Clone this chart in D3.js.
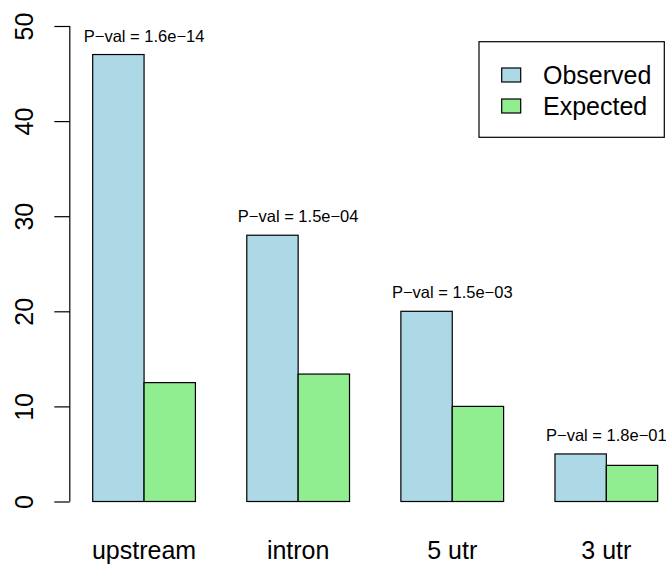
<!DOCTYPE html>
<html>
<head>
<meta charset="utf-8">
<script src="https://cdn.jsdelivr.net/npm/d3@7"></script>
<style>
  body { margin: 0; background: #fff; }
  svg { display: block; font-family: "Liberation Sans", Arial, Helvetica, sans-serif; }
</style>
</head>
<body>
<div id="chart"></div>
<script>
// data
var categories = ["upstream", "intron", "5 utr", "3 utr"];
var observed = [47, 28, 20, 5];
var expected = [12.5, 13.4, 10, 3.8];
var pvals = ["1.6e\u221214", "1.5e\u221204", "1.5e\u221203", "1.8e\u221201"];
var yTicks = [0, 10, 20, 30, 40, 50];
var seriesNames = ["Observed", "Expected"];

var w = 666, h = 566;
var colors = ["#ADD8E6", "#90EE90"]; // lightblue, lightgreen

var svg = d3.select("#chart")
    .append("svg")
    .attr("width", w)
    .attr("height", h);

// bar units like R's barplot: each group = 2 bars + 1 bar gap
var x = d3.scaleLinear()
    .domain([1, 12])
    .range([92.7, 657.7]);

var y = d3.scaleLinear()
    .domain([0, 50])
    .range([501.5, 26]);

var rows = [];
categories.forEach(function (c, i) {
    rows.push({ cat: c, s: 0, v: observed[i], u: 1 + 3 * i });
    rows.push({ cat: c, s: 1, v: expected[i], u: 2 + 3 * i });
});

svg.selectAll("rect.bar")
    .data(rows)
    .enter()
    .append("rect")
    .attr("class", "bar")
    .attr("x", function (d) { return x(d.u); })
    .attr("y", function (d) { return y(d.v); })
    .attr("width", function (d) { return x(d.u + 1) - x(d.u); })
    .attr("height", function (d) { return y(0) - y(d.v); })
    .attr("fill", function (d) { return colors[d.s]; })
    .attr("stroke", "#000")
    .attr("stroke-width", 1.2);

// p-value labels above each group
svg.selectAll("text.pval")
    .data(categories)
    .enter()
    .append("text")
    .attr("class", "pval")
    .attr("x", function (d, i) { return x(2 + 3 * i); })
    .attr("y", function (d, i) { return y(observed[i] + 2); })
    .attr("text-anchor", "middle")
    .attr("dominant-baseline", "central")
    .attr("font-size", "16.5px")
    .text(function (d, i) { return "P\u2212val = " + pvals[i]; });

// group names under the bars
svg.selectAll("text.cat")
    .data(categories)
    .enter()
    .append("text")
    .attr("class", "cat")
    .attr("x", function (d, i) { return x(2 + 3 * i); })
    .attr("y", 559)
    .attr("text-anchor", "middle")
    .attr("font-size", "25px")
    .text(function (d) { return d; });

// y axis, R style with rotated labels
var yAxis = d3.axisLeft(y)
    .tickValues(yTicks)
    .tickSize(15.5)
    .tickPadding(0)
    .tickFormat(d3.format("d"));

var gy = svg.append("g")
    .attr("transform", "translate(69.8,0)")
    .call(yAxis);

gy.select(".domain")
    .attr("d", "M0," + y(0) + "V" + y(50))
    .attr("stroke", "#000")
    .attr("stroke-width", 1.2);
gy.selectAll(".tick line").attr("stroke", "#000").attr("stroke-width", 1.2);
gy.selectAll(".tick text")
    .attr("x", 0)
    .attr("dy", null)
    .attr("fill", "#000")
    .attr("font-size", "25px")
    .attr("font-family", "'Liberation Sans', Arial, sans-serif")
    .attr("text-anchor", "middle")
    .attr("transform", "translate(-36.5,0) rotate(-90)");

// legend
var legend = svg.append("g");
legend.append("rect")
    .attr("x", 479)
    .attr("y", 41.7)
    .attr("width", 185.3)
    .attr("height", 95.6)
    .attr("fill", "#fff")
    .attr("stroke", "#000")
    .attr("stroke-width", 1.2);

var items = legend.selectAll("g.item")
    .data(seriesNames)
    .enter()
    .append("g")
    .attr("class", "item")
    .attr("transform", function (d, i) { return "translate(0," + (75 + i * 31) + ")"; });

items.append("rect")
    .attr("x", 501.7)
    .attr("y", -7)
    .attr("width", 19)
    .attr("height", 14)
    .attr("fill", function (d, i) { return colors[i]; })
    .attr("stroke", "#000")
    .attr("stroke-width", 1.2);

items.append("text")
    .attr("x", 543)
    .attr("y", 0)
    .attr("dominant-baseline", "central")
    .attr("font-size", "25px")
    .text(function (d) { return d; });
</script>
</body>
</html>
